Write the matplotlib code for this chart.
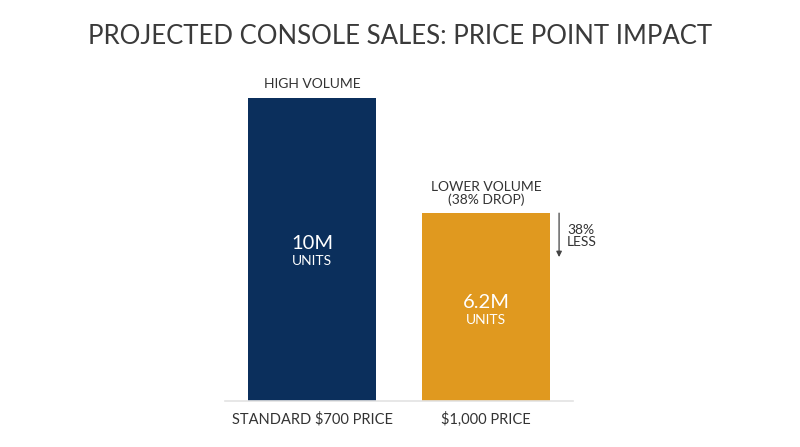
import matplotlib
matplotlib.use("Agg")
import matplotlib.pyplot as plt

categories = ["STANDARD $700 PRICE", "$1,000 PRICE"]
values = [10, 6.2]
value_labels = ["10M", "6.2M"]
top_labels = ["HIGH VOLUME", "LOWER VOLUME\n(38% DROP)"]
drop_label = "38%\nLESS"
colors = ["#0b2f5c", "#e0991f"]

plt.rcParams['font.family'] = ['Lato', 'DejaVu Sans']
fig = plt.figure(figsize=(8, 4.47), dpi=100)
fig.patch.set_facecolor("white")
ax = fig.add_axes([225/800, 46/447, 348/800, 303/447])
x = [0, 1]
ax.bar(x, values, width=0.736, color=colors, zorder=2)
ax.set_xlim(-0.5, 1.5)
ax.set_ylim(0, 10)
for s in ["top", "right", "left"]:
    ax.spines[s].set_visible(False)
ax.spines["bottom"].set_color("#e3e3e3")
ax.spines["bottom"].set_linewidth(1.2)
ax.set_yticks([])
ax.set_xticks(x)
ax.set_xticklabels(categories, fontsize=10.5, color="#333333")
ax.tick_params(axis="x", length=0, pad=8)

fig.text(0.5, 1 - 37/447, "PROJECTED CONSOLE SALES: PRICE POINT IMPACT",
         ha="center", va="center", fontsize=18.5, color="#3a3a3a")

# top labels
ax.text(0, values[0] + 0.25, top_labels[0], ha="center", va="bottom",
        fontsize=10, color="#333333")
ax.text(1, values[1] + 0.25, top_labels[1], ha="center", va="bottom",
        fontsize=10, color="#333333", linespacing=1.0)

# inside labels
fracs = [0.52, 0.525]
for i in range(2):
    yv = values[i] * fracs[i]
    ax.text(x[i], yv, value_labels[i], ha="center", va="center",
            fontsize=14.5, color="white")
    ax.text(x[i], yv - 0.57, "UNITS", ha="center", va="center",
            fontsize=10, color="white")

# drop arrow
ax.annotate("", xy=(1.42, values[1] - 1.45), xytext=(1.42, values[1]),
            arrowprops=dict(arrowstyle="-|>", color="#444444", lw=0.9,
                            mutation_scale=8, shrinkA=0, shrinkB=0))
ax.text(1.465, values[1] - 0.75, drop_label, ha="left", va="center",
        fontsize=10, color="#333333", linespacing=1.0)

fig.savefig("out.png", dpi=100, facecolor="white")
